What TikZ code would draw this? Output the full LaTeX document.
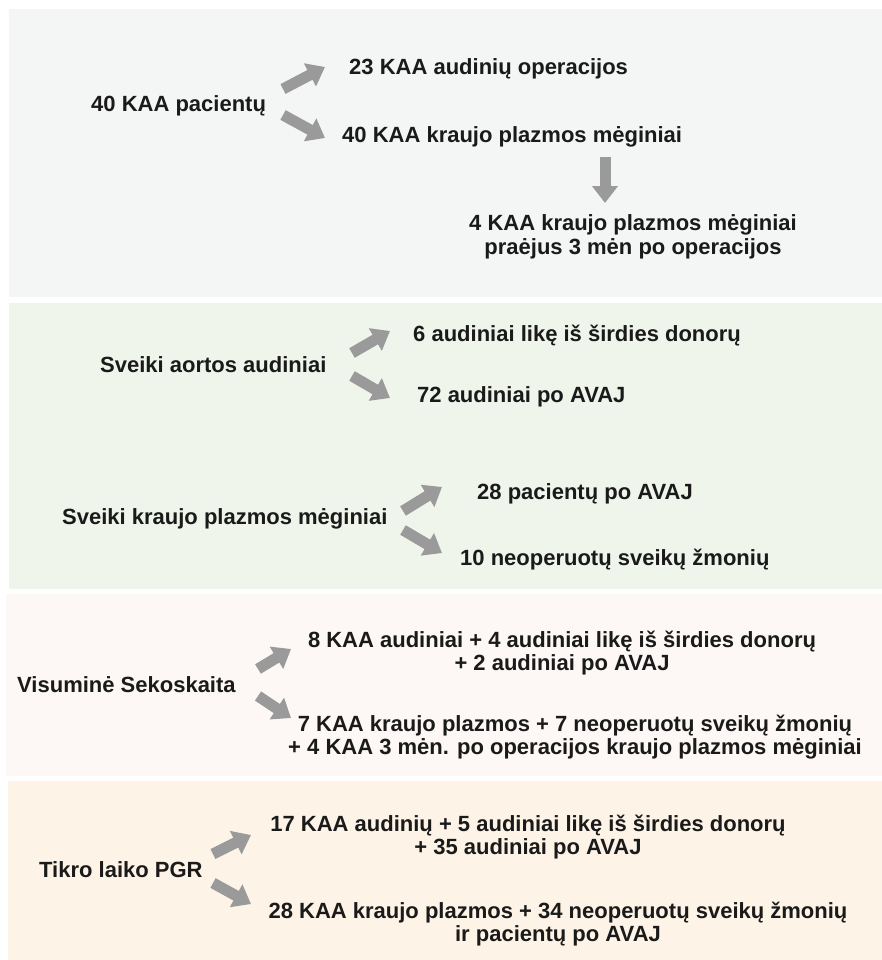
\documentclass[tikz,border=0pt]{standalone}
\usepackage{fontspec}
\setmainfont{Liberation Sans}
\usepackage{tikz}
\usetikzlibrary{arrows.meta}
\usepackage{xcolor}
\definecolor{paneA}{HTML}{F4F6F5}
\definecolor{paneB}{HTML}{EFF5EA}
\definecolor{paneC}{HTML}{FDF8F5}
\definecolor{paneD}{HTML}{FDF4E7}
\definecolor{arrgray}{HTML}{9A9A9A}
\definecolor{txt}{HTML}{1A1A1A}

\begin{document}
\begin{tikzpicture}[x=1pt,y=-1pt,
    lbl/.style={anchor=base west, inner sep=0pt, text=txt, font=\fontsize{22}{24}\selectfont\bfseries},
    lbl2/.style={anchor=center, inner sep=0pt, align=center, text=txt, font=\fontsize{22}{23.5}\selectfont\bfseries},
    blk/.style={arrgray, line width=11pt, -{Triangle[width=25pt,length=17pt]}}]
\useasboundingbox (0,0) rectangle (882,960);

% panels
\fill[paneA] (9,9) rectangle (882,297);
\fill[paneB] (9,303) rectangle (882,589);
\fill[paneC] (6,594) rectangle (882,776);
\fill[paneD] (8,781) rectangle (882,960);

% KAA patients
\node[lbl] (pac) at (91,112) {40 KAA pacientų};
\node[lbl] (ops) at (349,75) {23 KAA audinių operacijos};
\node[lbl] (plz) at (342,143) {40 KAA kraujo plazmos mėginiai};
\node[lbl2] (late) at (633,237) {4 KAA kraujo plazmos mėginiai\\ praėjus 3 mėn po operacijos};

\coordinate (pacT) at (283,89);   \coordinate (opsH) at (325,67);
\coordinate (pacB) at (283,115);  \coordinate (plzH) at (325,138);
\coordinate (plzT) at (605,157);  \coordinate (lateH) at (605,203);
\draw[blk] (pacT) -- (opsH);
\draw[blk] (pacB) -- (plzH);
\draw[blk] (plzT) -- (lateH);

% healthy tissue and plasma
\node[lbl] (aort) at (100,372) {Sveiki aortos audiniai};
\node[lbl] (don) at (413,341) {6 audiniai likę iš širdies donorų};
\node[lbl] (avaj) at (417,402) {72 audiniai po AVAJ};
\node[lbl] (kpm) at (62,524) {Sveiki kraujo plazmos mėginiai};
\node[lbl] (pav) at (477,499) {28 pacientų po AVAJ};
\node[lbl] (neo) at (460,565) {10 neoperuotų sveikų žmonių};

\coordinate (aortT) at (352,353); \coordinate (donH) at (390,331);
\coordinate (aortB) at (352,376); \coordinate (avajH) at (390,398);
\coordinate (kpmT) at (403,511);  \coordinate (pavH) at (442,487);
\coordinate (kpmB) at (403,530);  \coordinate (neoH) at (442,553);
\draw[blk] (aortT) -- (donH);
\draw[blk] (aortB) -- (avajH);
\draw[blk] (kpmT) -- (pavH);
\draw[blk] (kpmB) -- (neoH);

% sequencing
\node[lbl] (vis) at (17,692) {Visuminė Sekoskaita};
\node[lbl2] (ws1) at (562,653) {8 KAA audiniai + 4 audiniai likę iš širdies donorų\\ + 2 audiniai po AVAJ};
\node[lbl2] (ws2) at (575,737) {7 KAA kraujo plazmos + 7 neoperuotų sveikų žmonių\\ + 4 KAA 3 mėn. po operacijos kraujo plazmos mėginiai};

\coordinate (visT) at (258,669);  \coordinate (ws1H) at (291,649);
\coordinate (visB) at (258,696);  \coordinate (ws2H) at (291,718);
\draw[blk] (visT) -- (ws1H);
\draw[blk] (visB) -- (ws2H);

% real time PCR
\node[lbl] (pgr) at (39,877) {Tikro laiko PGR};
\node[lbl2] (t1) at (528,837) {17 KAA audinių + 5 audiniai likę iš širdies donorų\\ + 35 audiniai po AVAJ};
\node[lbl2] (t2) at (558,924) {28 KAA kraujo plazmos + 34 neoperuotų sveikų žmonių\\ ir pacientų po AVAJ};

\coordinate (pgrT) at (213,854);  \coordinate (t1H) at (251,835);
\coordinate (pgrB) at (213,883);  \coordinate (t2H) at (251,904);
\draw[blk] (pgrT) -- (t1H);
\draw[blk] (pgrB) -- (t2H);

\end{tikzpicture}
\end{document}
